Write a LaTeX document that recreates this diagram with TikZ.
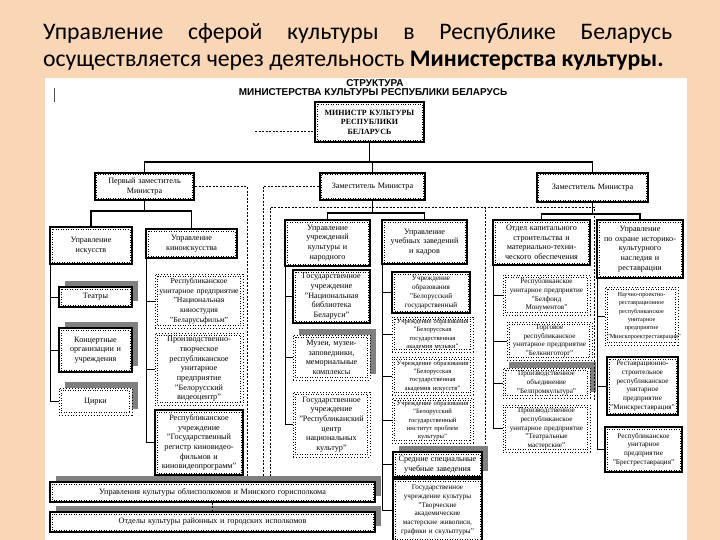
\documentclass[tikz,border=0pt]{standalone}
\usepackage{fontspec}
\setmainfont{Liberation Serif}
\newfontfamily\ttlfont{Carlito}
\newfontfamily\hdfont{Liberation Sans}
\usetikzlibrary{shadows}
\definecolor{peach}{RGB}{249,214,181}
\definecolor{shd}{RGB}{128,128,128}
\tikzset{
 bxbase/.style={fill=white, inner sep=0pt, align=center, font=\fontsize{8.2}{9.7}\selectfont},
 sb/.style={draw=black, line width=1.3bp},
 db/.style={draw=black, line width=0.9bp, dotted},
 depb/.style={draw=black, line width=2.2bp},
 shad/.style={drop shadow={shadow xshift=6bp, shadow yshift=6bp, fill=shd, opacity=1}},
 trunk/.style={line width=1.8bp, draw=black},
 branch/.style={line width=0.8bp, draw=black},
 dsh/.style={line width=0.6bp, dash pattern=on 2bp off 1.5bp},
 sm/.style={font=\fontsize{7.2}{8.8}\selectfont},
 xs/.style={font=\fontsize{6.6}{8.4}\selectfont},
}
\newcommand\bx[7][sb]{%
 \pgfmathsetmacro\bxw{#5-#3}%
 \pgfmathsetmacro\bxh{#6-#4}%
 \pgfmathsetmacro\bxt{#5-#3-4}%
 \node[bxbase,#1,minimum width=\bxw bp,minimum height=\bxh bp,text width=\bxt bp] (#2) at ({(#3+#5)/2},{(#4+#6)/2}) {#7};%
 \draw[line width=0.5bp,dotted] ([xshift=2.8bp,yshift=-2.8bp]#2.north west) rectangle ([xshift=-2.8bp,yshift=2.8bp]#2.south east);%
}
\begin{document}
\begin{tikzpicture}[x=1bp,y=-1bp]
\useasboundingbox (0,0) rectangle (720,540);
\fill[peach] (0,0) rectangle (720,540);
\fill[white] (45,78) rectangle (687,540);

% heading
\node[anchor=base west, inner sep=0, font=\ttlfont\fontsize{23.8}{28}\selectfont] (t1) at (43,40)
  {\makebox[629bp][s]{Управление сферой культуры в Республике Беларусь}};
\node[anchor=base west, inner sep=0, font=\ttlfont\fontsize{23.8}{28}\selectfont] (t2) at (43,67)
  {осуществляется через деятельность \textbf{Министерства культуры.}};

% chart title
\node[inner sep=0, font=\hdfont\bfseries\fontsize{10}{10}\selectfont] (st1) at (375,83.5) {СТРУКТУРА};
\node[inner sep=0, font=\hdfont\bfseries\fontsize{10}{10}\selectfont] (st2) at (373,92) {МИНИСТЕРСТВА КУЛЬТУРЫ РЕСПУБЛИКИ БЕЛАРУСЬ};

\coordinate (cur1) at (54.5,88); \coordinate (cur2) at (54.5,102);
\draw[line width=1bp, black!70] (cur1) -- (cur2);

% top levels
\bx[sb,line width=2bp,font=\bfseries\fontsize{8}{9.6}\selectfont]{min}{315}{102}{424}{142}{МИНИСТР КУЛЬТУРЫ\\РЕСПУБЛИКИ\\БЕЛАРУСЬ}
\bx[depb]{dep1}{95}{173}{194}{200}{Первый заместитель\\Министра}
\bx[depb]{dep2}{320}{173}{425}{200}{Заместитель Министра}
\bx[depb]{dep3}{537}{173}{648}{202}{Заместитель Министра}

\bx{u1}{50}{227}{132}{264}{Управление\\искусств}
\bx{u2}{146}{229}{237}{258}{Управление\\киноискусства}
\bx{u3}{285}{220}{370}{266}{Управление\\учреждений\\культуры и\\народного}
\bx{u4}{382}{220}{467}{264}{Управление\\учебных заведений\\и кадров}
\bx{u5}{493}{220}{590}{265}{Отдел капитального\\строительства и\\материально-техни-\\ческого обеспечения}
\bx{u6}{597}{220}{683}{278}{Управление\\по охране историко-\\культурного\\наследия и\\реставрации}

% leaves
\bx[sb,shad]{teatr}{59}{287}{132}{307}{Театры}
\bx[sb,shad]{konc}{59}{328}{132}{372}{Концертные\\организации и\\учреждения}
\bx[db,shad]{cirk}{59}{388}{132}{415}{Цирки}

\bx[db,font=\fontsize{7.8}{9.7}\selectfont]{kin1}{155}{274}{243}{328}{Республиканское\\унитарное предприятие\\"Национальная\\киностудия\\"Беларусьфильм"}
\bx[db]{kin2}{155}{333}{243}{405}{Производственно-\\творческое\\республиканское\\унитарное\\предприятие\\"Белорусский\\видеоцентр"}
\bx[sb]{kin3}{155}{410}{243}{475}{Республиканское\\учреждение\\"Государственный\\регистр киновидео-\\фильмов и\\киновидеопрограмм"}

\bx[sb]{c1}{293}{270}{370}{323}{Государственное\\учреждение\\"Национальная\\библиотека\\Беларуси"}
\bx[db,shad]{c2}{293}{335}{370}{380}{Музеи, музеи-\\заповедники,\\мемориальные\\комплексы}
\bx[db]{c3}{293}{392}{370}{457}{Государственное\\учреждение\\"Республиканский\\центр\\национальных\\культур"}

\bx[sb,sm]{e1}{392}{272}{470}{313}{Учреждение\\образования\\"Белорусский\\государственный}
\bx[db,xs]{e2}{392}{317}{473}{352}{Учреждение образования\\"Белорусская\\государственная\\академия музыки"}
\bx[db,xs]{e3}{392}{357}{473}{395}{Учреждение образования\\"Белорусская\\государственная\\академия искусств"}
\bx[db,xs]{e4}{392}{398}{473}{443}{Учреждение образования\\"Белорусский\\государственный\\институт проблем\\культуры"}
\bx[sb,shad]{e5}{393}{452}{482}{477}{Средние специальные\\учебные заведения}
\bx[sb,sm]{e6}{393}{479}{482}{541}{Государственное\\учреждение культуры\\"Творческие\\академические\\мастерские живописи,\\графики и скульптуры"}

\bx[db,sm]{k1}{503}{275}{590}{315}{Республиканское\\унитарное предприятие\\"Белфонд\\Монументов"}
\bx[db,sm]{k2}{507}{322}{592}{360}{Торговое\\республиканское\\унитарное предприятие\\"Белкниготорг"}
\bx[db,sm,shad]{k3}{503}{368}{590}{398}{Производственное\\объединение\\"Белпромкультура"}
\bx[db,sm]{k4}{503}{405}{590}{452}{Производственное\\республиканское\\унитарное предприятие\\"Театральные\\мастерские"}

\bx[db,font=\fontsize{6.2}{8.4}\selectfont]{r1}{605}{287}{678}{345}{Научно-проектно-\\реставрационное\\республиканское\\унитарное\\предприятие\\"Минскпроектреставрация"}
\bx[sb,sm]{r2}{607}{357}{678}{415}{Реставрационно-\\строительное\\республиканское\\унитарное\\предприятие\\"Минскреставрация"}
\bx[sb,sm]{r3}{605}{427}{682}{472}{Республиканское\\унитарное\\предприятие\\"Брестреставрация"}

\bx[sb,shad]{b1}{50}{482}{375}{502}{Управления культуры облисполкомов и Минского горисполкома}
\bx[sb,shad]{b2}{50}{512}{375}{532}{Отделы культуры районных и городских исполкомов}

% trunks
\coordinate (busy) at (0,162);
\draw[trunk] (min.south) -- (min.south|-busy);
\draw[trunk] (dep1.north) |- (dep3.north|-busy) -- (dep3.north);
\draw[trunk] (dep2.north) -- (dep2.north|-busy);
\coordinate (d1y) at (0,211);
\draw[trunk] (dep1.south) -- (dep1.south|-d1y);
\draw[trunk] (u1.north) |- (u2.north|-d1y) -- (u2.north);
\coordinate (d2y) at (0,213);
\draw[trunk] (dep2.south) -- (dep2.south|-d2y);
\draw[trunk] (u3.north) |- (u4.north|-d2y) -- (u4.north);
\coordinate (d3y) at (0,214);
\draw[trunk] (dep3.south) -- (dep3.south|-d3y);
\draw[trunk] (u5.north) |- (u6.north|-d3y) -- (u6.north);

% branches
\foreach \p/\c in {u1/teatr,u1/konc,u1/cirk,u2/kin1,u2/kin2,u2/kin3,u3/c1,u3/c2,u3/c3,u4/e1,u4/e2,u4/e3,u4/e4,u4/e5,u4/e6,u5/k1,u5/k2,u5/k3,u5/k4,u6/r1,u6/r2,u6/r3}
  \draw[branch] ([xshift=1bp]\p.south west) |- (\c.west);

% dashed links
\coordinate (mdl) at (255,131);
\draw[dsh] (mdl) -- (min.west|-mdl);
\coordinate (dl1) at (247,476);
\draw[dsh] (dep1.east) -| (dl1);
\coordinate (dl2) at (263,476);
\draw[dsh] (dep2.west) -| (dl2);
\coordinate (dl3) at (270,476);
\coordinate (h1) at (270,207);
\coordinate (h2) at (594,207);
\coordinate (dl5) at (594,400);
\draw[dsh] (dl3) -- (h1) -- (h2) -- (dl5);
\coordinate (dl4t) at (485,207);
\coordinate (dl4) at (485,445);
\draw[dsh] (dl4t) -- (dl4);
\draw[dsh] (b1.south) -- (b2.north);
\end{tikzpicture}
\end{document}
